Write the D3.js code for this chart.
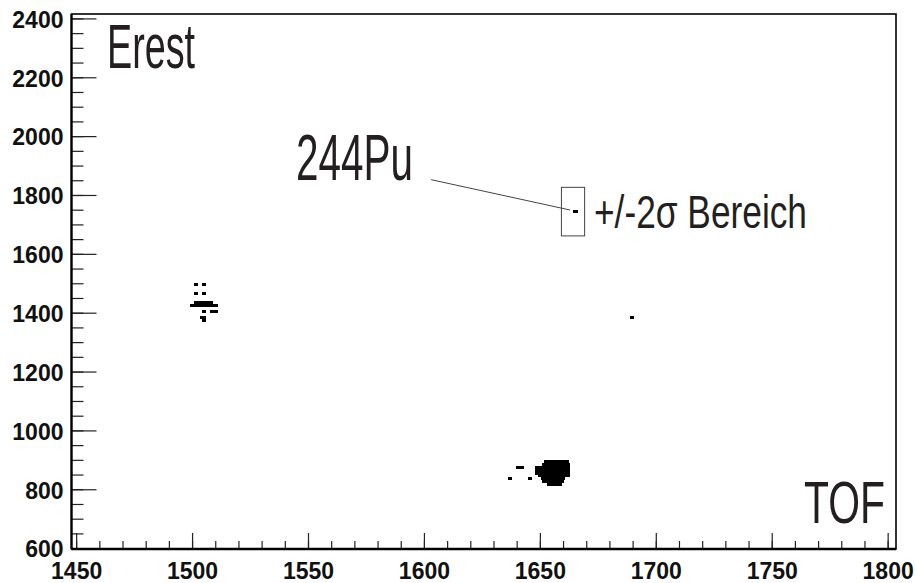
<!DOCTYPE html>
<html>
<head>
<meta charset="utf-8">
<script src="https://cdn.jsdelivr.net/npm/d3@7"></script>
<style>
  body { margin: 0; background: #fff; }
  svg { display: block; }
  .axis text { font-family: "Liberation Sans", Arial, sans-serif; font-weight: bold; font-size: 23px; fill: #111; }
  .axis line { stroke: #222; stroke-width: 1.2; }
  .axis path { display: none; }
  .big { font-family: "Liberation Sans", Arial, sans-serif; fill: #231f20; }
</style>
</head>
<body>
<svg id="chart" width="915" height="583"></svg>
<script>
// axis ranges (TOF / Erest)
var tofRange = [1448, 1803.6];
var erestRange = [597, 2415];
var xMajor = [1450, 1500, 1550, 1600, 1650, 1700, 1750, 1800];
var yMajor = [600, 800, 1000, 1200, 1400, 1600, 1800, 2000, 2200, 2400];

// histogram bin height in Erest
var binH = 10;

// filled bins: [tof from, tof to, erest bin low]
var cluster1 = [
    [1500.75, 1502.5, 1490], [1504.25, 1506.0, 1490],
    [1500.75, 1502.5, 1460], [1504.25, 1506.0, 1460],
    [1501.0, 1509.0, 1430],
    [1499.0, 1511.25, 1420],
    [1504.25, 1506.0, 1400], [1507.75, 1511.25, 1400],
    [1503.5, 1506.0, 1380],
    [1504.25, 1506.0, 1370]
];
var cluster2 = [
    [1652.0, 1662.5, 890],
    [1651.0, 1663.0, 880],
    [1648.0, 1663.0, 870], [1639.75, 1643.25, 870],
    [1648.0, 1663.0, 860],
    [1648.0, 1663.0, 850],
    [1649.0, 1663.0, 840],
    [1650.5, 1661.0, 830], [1636.25, 1638.0, 830], [1644.75, 1646.5, 830],
    [1651.0, 1660.5, 820],
    [1653.0, 1659.5, 810]
];
var singles = [
    [1664.5, 1666.25, 1740],
    [1688.75, 1690.5, 1380]
];

// annotation: +/-2 sigma window and pointer line
var sigmaBox = {tof: [1659.3, 1669.3], erest: [1661, 1826]};
var pointer = [[1603.1, 1852], [1663.0, 1749]];

var svg = d3.select('#chart');
var m = {left: 71.5, right: 896, top: 14, bottom: 549};

var x = d3.scaleLinear().domain(tofRange).range([m.left, m.right]);
var y = d3.scaleLinear().domain(erestRange).range([m.bottom, m.top]);

// minor ticks
svg.append('g')
    .attr('class', 'axis')
    .attr('transform', 'translate(0,' + m.bottom + ')')
    .call(d3.axisBottom(x).tickValues(d3.range(1450, 1801, 10)).tickSize(-8).tickFormat(''));
svg.append('g')
    .attr('class', 'axis')
    .attr('transform', 'translate(' + m.left + ',0)')
    .call(d3.axisLeft(y).tickValues(d3.range(600, 2401, 50)).tickSize(-12).tickFormat(''));

// major ticks with labels
svg.append('g')
    .attr('class', 'axis')
    .attr('transform', 'translate(0,' + m.bottom + ')')
    .call(d3.axisBottom(x).tickValues(xMajor).tickSize(-16).tickPadding(14).tickFormat(d3.format('d')));
svg.append('g')
    .attr('class', 'axis')
    .attr('transform', 'translate(' + m.left + ',0)')
    .call(d3.axisLeft(y).tickValues(yMajor).tickSize(-25).tickPadding(8).tickFormat(d3.format('d')))
    .selectAll('text').attr('dy', '0.38em');

// histogram cells (rounded to whole pixels so rows join without seams)
var cells = cluster1.concat(cluster2, singles);
svg.append('g')
    .attr('shape-rendering', 'crispEdges')
    .selectAll('rect')
    .data(cells)
    .enter().append('rect')
    .attr('x', function(d) { return Math.round(x(d[0])); })
    .attr('width', function(d) { return Math.round(x(d[1])) - Math.round(x(d[0])); })
    .attr('y', function(d) { return Math.round(y(d[2] + binH)); })
    .attr('height', function(d) { return Math.round(y(d[2])) - Math.round(y(d[2] + binH)); })
    .attr('fill', '#000');

// frame
svg.append('rect')
    .attr('x', m.left).attr('y', m.top)
    .attr('width', m.right - m.left).attr('height', m.bottom - m.top)
    .attr('fill', 'none').attr('stroke', '#000').attr('stroke-width', 1.6);
svg.append('line')
    .attr('x1', m.left).attr('x2', m.right).attr('y1', m.bottom).attr('y2', m.bottom)
    .attr('stroke', '#000').attr('stroke-width', 2.4);
svg.append('line')
    .attr('x1', m.left).attr('x2', m.left).attr('y1', m.top).attr('y2', m.bottom)
    .attr('stroke', '#000').attr('stroke-width', 2.2);

// sigma box + pointer
svg.append('rect')
    .attr('x', x(sigmaBox.tof[0]))
    .attr('y', y(sigmaBox.erest[1]))
    .attr('width', x(sigmaBox.tof[1]) - x(sigmaBox.tof[0]))
    .attr('height', y(sigmaBox.erest[0]) - y(sigmaBox.erest[1]))
    .attr('fill', 'none').attr('stroke', '#444').attr('stroke-width', 1);
svg.append('line')
    .attr('x1', x(pointer[0][0])).attr('y1', y(pointer[0][1]))
    .attr('x2', x(pointer[1][0])).attr('y2', y(pointer[1][1]))
    .attr('stroke', '#444').attr('stroke-width', 1);

// labels
function bigText(str, px, py, size, len) {
    svg.append('text')
        .attr('class', 'big')
        .attr('x', px).attr('y', py)
        .attr('font-size', size)
        .attr('textLength', len)
        .attr('lengthAdjust', 'spacingAndGlyphs')
        .text(str);
}
bigText('Erest', 107, 68, 63, 88);
bigText('244Pu', 296, 180, 65, 117);
bigText('+/-2\u03c3 Bereich', 594, 228, 46, 213);
bigText('TOF', 804, 523, 60, 81);
</script>
</body>
</html>
